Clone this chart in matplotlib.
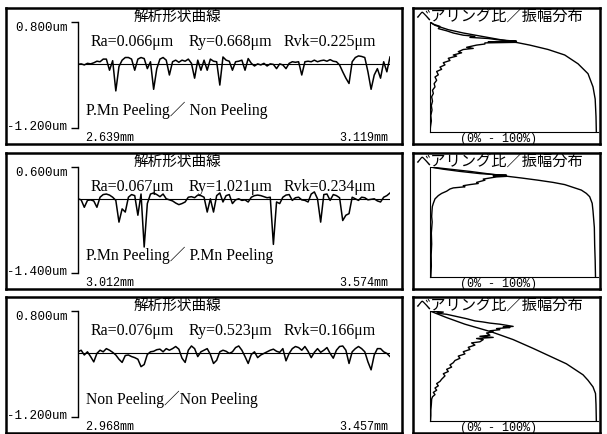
import numpy as np
import matplotlib.pyplot as plt

W, H = 607, 434

# ---- data ----
titles = ['解析形状曲線'] * 3
ra = ['Ra=0.066μm', 'Ra=0.067μm', 'Ra=0.076μm']
ry = ['Ry=0.668μm', 'Ry=1.021μm', 'Ry=0.523μm']
rvk = ['Rvk=0.225μm', 'Rvk=0.234μm', 'Rvk=0.166μm']
notes = ['P.Mn Peeling／ Non Peeling', 'P.Mn Peeling／ P.Mn Peeling', 'Non Peeling／Non Peeling']
y_top = [0.8, 0.6, 0.8]
y_bot = [-1.2, -1.4, -1.2]
x_start = [2.639, 3.012, 2.968]
x_end = [3.119, 3.574, 3.457]

# profile heights (um), evenly sampled along the measured length
prof1 = [0.00, 0.01, -0.01, 0.02, 0.01, 0.03, 0.06, 0.05, 0.10, 0.10,
         -0.11, 0.07, -0.50, -0.04, 0.08, 0.13, 0.13, 0.10, -0.11, 0.10,
         0.13, 0.11, -0.08, 0.05, -0.47, -0.08, 0.10, 0.13, 0.08, -0.20,
         0.05, 0.08, 0.04, 0.08, 0.06, 0.10, 0.02, -0.26, 0.08, -0.11,
         0.08, -0.11, 0.10, 0.06, 0.05, -0.39, 0.14, 0.08, 0.06, -0.11,
         0.05, 0.06, 0.08, -0.11, 0.11, 0.02, -0.03, 0.01, -0.01, 0.02,
         -0.03, 0.01, 0.00, -0.08, 0.01, -0.01, -0.08, 0.02, 0.05, 0.04,
         0.05, -0.20, 0.05, 0.06, 0.05, 0.08, 0.05, 0.07, 0.08, 0.06,
         0.09, 0.06, 0.05, -0.01, -0.14, -0.26, -0.36, 0.05, 0.13, 0.16,
         0.15, 0.13, -0.14, -0.47, -0.20, -0.08, -0.26, 0.05, -0.14, 0.14]
prof2 = [0.00, -0.02, -0.16, -0.03, -0.02, -0.04, -0.16, 0.03, 0.08, 0.09,
         0.07, 0.03, -0.03, -0.44, -0.19, -0.25, 0.03, 0.08, 0.06, -0.31,
         0.09, -0.91, -0.09, 0.09, 0.11, 0.08, 0.04, 0.09, 0.00, -0.02,
         -0.04, -0.08, -0.11, -0.09, -0.06, 0.03, 0.04, 0.02, 0.07, 0.06,
         0.03, -0.25, 0.00, -0.25, 0.06, 0.11, -0.06, 0.06, 0.08, -0.09,
         -0.02, 0.00, -0.03, -0.02, -0.06, 0.03, 0.06, 0.07, 0.06, 0.04,
         0.02, 0.03, -0.86, -0.06, -0.09, 0.03, 0.07, 0.08, -0.03, 0.02,
         0.03, -0.02, -0.03, -0.06, 0.09, 0.13, 0.00, -0.44, 0.08, 0.09,
         -0.03, 0.08, 0.06, 0.02, -0.41, -0.31, -0.28, 0.03, 0.00, -0.03,
         0.03, 0.02, -0.02, -0.01, 0.00, -0.04, -0.06, 0.03, 0.06, 0.11]
prof3 = [0.03, 0.06, -0.03, 0.03, -0.06, -0.16, 0.00, 0.06, 0.03, 0.09,
         0.06, 0.02, -0.03, -0.11, -0.17, -0.04, -0.03, -0.06, -0.08, -0.11,
         -0.25, -0.21, -0.02, 0.03, 0.04, 0.07, 0.08, 0.03, 0.09, 0.06,
         0.09, 0.13, 0.08, -0.09, -0.17, 0.06, 0.14, 0.09, -0.06, 0.03,
         0.06, 0.09, -0.02, -0.19, -0.13, 0.03, 0.06, 0.04, 0.00, 0.03,
         0.11, 0.14, 0.06, -0.06, -0.19, -0.02, 0.03, -0.08, -0.03, 0.00,
         0.03, 0.06, 0.08, 0.04, 0.02, 0.09, -0.14, 0.00, 0.09, 0.13,
         0.11, 0.06, 0.13, 0.04, -0.08, 0.02, 0.09, 0.02, 0.06, 0.11,
         0.00, -0.09, 0.06, 0.13, 0.14, 0.06, -0.19, 0.03, 0.09, 0.13,
         0.09, 0.03, -0.16, -0.31, -0.03, 0.09, 0.09, 0.03, 0.00, -0.06]
profiles = [prof1, prof2, prof3]

# bearing ratio curves: depth (% from top) vs ratio (%)
br_depth1 = [0, 3, 7, 10, 13, 16, 18, 21, 25, 30, 38, 47, 59, 70, 86, 100]
br_ratio1 = [0, 3, 11, 20, 31, 42, 50, 60, 71, 81, 89, 95, 98, 99.3, 99.8, 100]
br_depth2 = [0, 2, 4, 6, 8, 10, 12, 14, 16, 19, 21, 24, 27, 33, 40, 55, 71, 85, 100]
br_ratio2 = [0, 12, 24, 34, 44, 55, 65, 74, 81, 87, 91, 94, 96, 97.5, 98, 98.8, 99, 99.3, 99.5]
br_depth3 = [0, 6, 12, 19, 26, 34, 41, 48, 53, 58, 63, 69, 75, 85, 100]
br_ratio3 = [0, 10, 21, 37, 50, 62, 72, 82, 87, 92, 95, 98, 99.5, 99.8, 100]

# amplitude distributions: depth (%) vs relative amplitude (%)
am_depth1 = [0, 2, 4, 6, 8, 10, 12, 13, 14, 15, 16, 17, 17.5, 18, 18.5, 19, 20, 21, 22, 23,
             24, 25, 27, 28, 30, 31, 33, 35, 37, 39, 41, 43, 45, 48, 50, 53, 56, 59, 62, 65,
             68, 72, 76, 80, 85, 90, 95, 100]
am_amp1 = [0, 2, 6, 5, 10, 14, 20, 27, 24, 35, 40, 48, 52, 35, 52, 33, 33, 28, 25, 22,
           26, 20, 17, 19, 14, 16, 11, 12, 8, 9, 6, 7, 4, 5, 3, 4, 2.5, 3, 1.5, 2,
           1, 1.5, 0.8, 1.2, 0.5, 0.8, 0.3, 0]
am_depth2 = [0, 2, 4, 6, 7, 7.5, 8, 8.5, 9, 10, 11, 12, 14, 15, 16, 17, 18, 19, 20, 22,
             24, 26, 29, 33, 36, 40, 45, 50, 60, 70, 80, 90, 100]
am_amp2 = [0, 8, 18, 30, 40, 46, 38, 46, 40, 36, 32, 33, 28, 29, 24, 20, 21, 14, 12, 10,
           7, 5, 3, 2, 1.4, 1.2, 1, 1.3, 0.8, 1, 0.7, 0.8, 0.5]
am_depth3 = [0, 1, 2, 3, 5, 7, 9, 10, 11, 12, 13, 14, 14.5, 15, 16, 17, 18, 19, 20, 22,
             23, 24, 25, 26, 28, 29, 31, 33, 35, 37, 39, 41, 43, 45, 47, 49, 51, 53, 55, 57,
             59, 62, 64, 66, 68, 70, 72, 74, 76, 78, 80, 85, 90, 95, 100]
am_amp3 = [0, 8, 4, 10, 16, 22, 27, 32, 36, 42, 46, 50, 44, 48, 40, 42, 36, 38, 34, 36,
           30, 38, 28, 32, 30, 25, 27, 23, 24, 20, 21, 17, 18, 15, 14, 12, 13, 10, 11, 8,
           9, 7, 6, 4, 5, 3, 4, 2, 3, 1.5, 1, 0.8, 0.5, 0.5, 0.3]

bearing = [(br_depth1, br_ratio1), (br_depth2, br_ratio2), (br_depth3, br_ratio3)]
amplitude = [(am_depth1, am_amp1), (am_depth2, am_amp2), (am_depth3, am_amp3)]

row_off = [0, 145, 289]

mono = 'Liberation Mono'
serif = ['Liberation Serif', 'Noto Sans CJK JP']
cjk = 'Noto Sans CJK JP'

fig = plt.figure(figsize=(W / 100, H / 100), dpi=100)


def px_axes(x0, y0, x1, y1):
    # pixel box (top-left origin) -> figure axes
    return fig.add_axes([x0 / W, 1 - y1 / H, (x1 - x0) / W, (y1 - y0) / H])


def px_text(x, y, s, **kw):
    fig.text(x / W, 1 - y / H, s, va='center', **kw)


for i in range(3):
    o = row_off[i]

    # outer frames
    for box in [(6, 8 + o, 402, 144 + o), (413, 8 + o, 600, 144 + o)]:
        bx = px_axes(*box)
        bx.set_xticks([])
        bx.set_yticks([])
        for s in bx.spines.values():
            s.set_linewidth(1.8)

    # profile
    ax = px_axes(78, 22 + o, 390, 128 + o)
    x = np.linspace(x_start[i], x_end[i], len(profiles[i]))
    ax.plot(x, profiles[i], color='black', lw=1.1)
    ax.axhline(0, color='black', lw=0.8)
    ax.set_xlim(x_start[i], x_end[i])
    ax.set_ylim(y_bot[i], y_top[i])
    ax.patch.set_alpha(0)
    for s in ['top', 'right', 'bottom']:
        ax.spines[s].set_visible(False)
    ax.spines['left'].set_linewidth(1.0)
    ax.set_xticks([])
    ax.set_yticks([y_bot[i], y_top[i]])
    ax.set_yticklabels([])
    ax.tick_params(axis='y', direction='out', length=5, width=1.0)

    px_text(41, 28 + o, '%.3fum' % y_top[i], family=mono, fontsize=9, ha='center')
    px_text(37, 127 + o, '%.3fum' % y_bot[i], family=mono, fontsize=9, ha='center')
    px_text(177, 16.5 + o, titles[i], family=cjk, fontsize=10.5, ha='center')
    px_text(91, 42 + o, ra[i], family=serif, fontsize=11.5, ha='left')
    px_text(189, 42 + o, ry[i], family=serif, fontsize=11.5, ha='left')
    px_text(284, 42 + o, rvk[i], family=serif, fontsize=11.5, ha='left')
    px_text(86, 110 + o, notes[i], family=serif, fontsize=11.3, ha='left')
    px_text(85, 138 + o, '%.3fmm' % x_start[i], family=mono, fontsize=8.5, ha='left')
    px_text(388, 138 + o, '%.3fmm' % x_end[i], family=mono, fontsize=8.5, ha='right')

    # bearing ratio / amplitude distribution
    bx = px_axes(430, 22 + o, 598, 132 + o)
    bd, br = bearing[i]
    ad, aa = amplitude[i]
    bx.plot(br, bd, color='black', lw=1.0)
    bx.plot(aa, ad, color='black', lw=1.0)
    bx.set_xlim(0, 101)
    bx.set_ylim(100, 0)
    bx.patch.set_alpha(0)
    bx.spines['top'].set_visible(False)
    bx.spines['right'].set_visible(False)
    bx.set_xticks([])
    bx.set_yticks([])

    px_text(415, 16.5 + o, 'ベアリング比／振幅分布', family=cjk, fontsize=11, ha='left')
    px_text(498, 139 + o, '(0% - 100%)', family=mono, fontsize=8.5, ha='center')

fig.savefig('out.png', dpi=100)
